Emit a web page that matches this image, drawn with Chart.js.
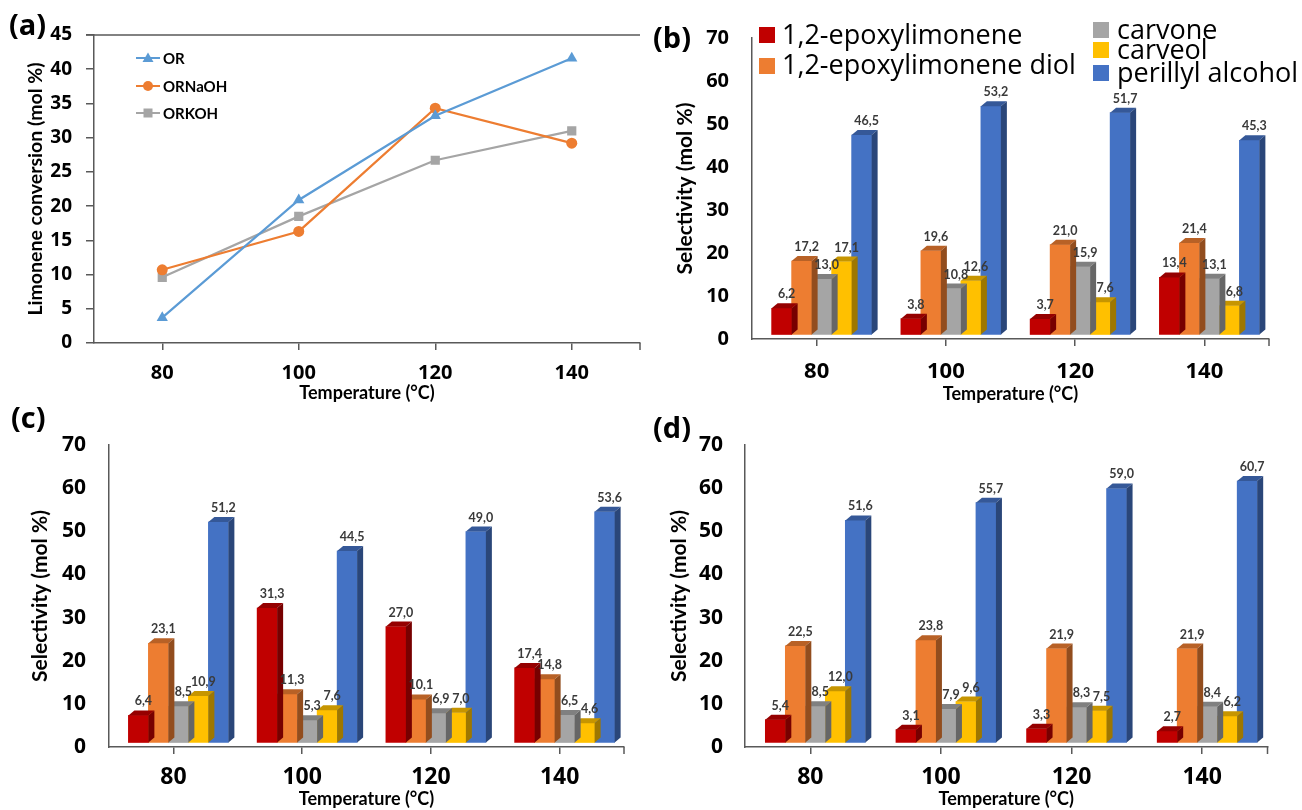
<!DOCTYPE html>
<html>
<head>
<meta charset="utf-8">
<script src="https://cdn.jsdelivr.net/npm/chart.js@4.4.1/dist/chart.umd.min.js"></script>
<style>
  body { margin: 0; background: #fff; width: 1302px; height: 810px; position: relative; overflow: hidden; font-family: Lato, sans-serif; }
  canvas { position: absolute; }
  .tag { position: absolute; font-family: 'Open Sans', sans-serif; font-weight: bold; font-size: 29px; line-height: 30px; color: #000; }
  .la { position: absolute; font-weight: bold; font-size: 15px; line-height: 16px; color: #000; }
  .sq { position: absolute; width: 16px; height: 16px; }
  .lb { position: absolute; font-family: 'Open Sans', sans-serif; font-size: 27px; line-height: 26px; color: #000; white-space: nowrap; }
</style>
</head>
<body>
<canvas id="ca" width="650" height="405" style="left:0;top:0"></canvas>
<canvas id="cb" width="652" height="405" style="left:650px;top:0"></canvas>
<canvas id="cc" width="650" height="405" style="left:0;top:405px"></canvas>
<canvas id="cd" width="652" height="405" style="left:650px;top:405px"></canvas>

<div class="tag" style="left:9px;top:9px">(a)</div>
<div class="tag" style="left:653px;top:22px">(b)</div>
<div class="tag" style="left:11px;top:402px">(c)</div>
<div class="tag" style="left:653px;top:412px">(d)</div>

<!-- legend (a) -->
<svg style="position:absolute;left:0;top:0" width="200" height="130">
  <line x1="136" y1="58" x2="160" y2="58" stroke="#5B9BD5" stroke-width="2"/>
  <polygon points="148,52.5 153.5,62 142.5,62" fill="#5B9BD5"/>
  <line x1="136" y1="86" x2="160" y2="86" stroke="#ED7D31" stroke-width="2"/>
  <circle cx="148" cy="86" r="5" fill="#ED7D31"/>
  <line x1="136" y1="113" x2="160" y2="113" stroke="#A5A5A5" stroke-width="2"/>
  <rect x="143.5" y="108.5" width="9" height="9" fill="#A5A5A5"/>
</svg>
<div class="la" style="left:163px;top:50px">OR</div>
<div class="la" style="left:163px;top:78px">ORNaOH</div>
<div class="la" style="left:163px;top:105px">ORKOH</div>

<!-- legend (b) -->
<div class="sq" style="left:759px;top:27px;background:#C00000"></div>
<div class="lb" style="left:782px;top:21px">1,2-epoxylimonene</div>
<div class="sq" style="left:759px;top:58px;background:#ED7D31"></div>
<div class="lb" style="left:782px;top:51px">1,2-epoxylimonene diol</div>
<div class="sq" style="left:1093px;top:22px;background:#A5A5A5"></div>
<div class="lb" style="left:1117px;top:16px">carvone</div>
<div class="sq" style="left:1093px;top:42px;background:#FFC000"></div>
<div class="lb" style="left:1117px;top:36px">carveol</div>
<div class="sq" style="left:1093px;top:65px;background:#4472C4"></div>
<div class="lb" style="left:1117px;top:59px">perillyl alcohol</div>

<script>
const temps = ['80', '100', '120', '140'];

// (a) limonene conversion, mol %
const convOR = [3.7, 20.9, 33.2, 41.6];
const convNaOH = [10.7, 16.3, 34.3, 29.2];
const convKOH = [9.6, 18.5, 26.7, 31.0];

const products = ['1,2-epoxylimonene', '1,2-epoxylimonene diol', 'carvone', 'carveol', 'perillyl alcohol'];
const productColors = ['#C00000', '#ED7D31', '#A5A5A5', '#FFC000', '#4472C4'];

// (b) selectivity, mol %
const bEpox = [6.2, 3.8, 3.7, 13.4];
const bDiol = [17.2, 19.6, 21.0, 21.4];
const bCarvone = [13.0, 10.8, 15.9, 13.1];
const bCarveol = [17.1, 12.6, 7.6, 6.8];
const bPerillyl = [46.5, 53.2, 51.7, 45.3];

// (c)
const cEpox = [6.4, 31.3, 27.0, 17.4];
const cDiol = [23.1, 11.3, 10.1, 14.8];
const cCarvone = [8.5, 5.3, 6.9, 6.5];
const cCarveol = [10.9, 7.6, 7.0, 4.6];
const cPerillyl = [51.2, 44.5, 49.0, 53.6];

// (d)
const dEpox = [5.4, 3.1, 3.3, 2.7];
const dDiol = [22.5, 23.8, 21.9, 21.9];
const dCarvone = [8.5, 7.9, 8.3, 8.4];
const dCarveol = [12.0, 9.6, 7.5, 6.2];
const dPerillyl = [51.6, 55.7, 59.0, 60.7];

const axisColor = '#595959';
const FONT = 'Lato';
const TICKFONT = 'Open Sans';
const fmt = v => v.toFixed(1).replace('.', ',');

const shade = (hex, k) => {
  const n = parseInt(hex.slice(1), 16);
  return `rgb(${((n >> 16) * k) | 0},${(((n >> 8) & 255) * k) | 0},${((n & 255) * k) | 0})`;
};

// pseudo 3D columns: side + top faces, shifted like the excel floor
const DX = 6, DY = 5, SX = 5, SY = -4;
const bar3d = {
  id: 'bar3d',
  beforeDatasetsDraw(chart) {
    chart.ctx.save();
    chart.ctx.translate(SX, SY);
  },
  afterDatasetDraw(chart, args) {
    const ctx = chart.ctx;
    const col = chart.data.datasets[args.index].backgroundColor;
    args.meta.data.forEach(bar => {
      const { x, y, base, width } = bar.getProps(['x', 'y', 'base', 'width'], true);
      const l = x - width / 2, r = x + width / 2;
      ctx.fillStyle = shade(col, 0.78);
      ctx.beginPath();
      ctx.moveTo(l, y); ctx.lineTo(l + DX, y - DY); ctx.lineTo(r + DX, y - DY); ctx.lineTo(r, y);
      ctx.closePath(); ctx.fill();
      ctx.fillStyle = shade(col, 0.62);
      ctx.beginPath();
      ctx.moveTo(r, y); ctx.lineTo(r + DX, y - DY); ctx.lineTo(r + DX, base - DY); ctx.lineTo(r, base);
      ctx.closePath(); ctx.fill();
    });
  },
  afterDatasetsDraw(chart) {
    const ctx = chart.ctx;
    ctx.font = `bold 12.5px ${FONT}`;
    ctx.fillStyle = '#3a3a3a';
    ctx.textAlign = 'center';
    ctx.textBaseline = 'middle';
    chart.data.datasets.forEach((ds, i) => {
      chart.getDatasetMeta(i).data.forEach((bar, j) => {
        ctx.fillText(fmt(ds.data[j]), bar.x + DX / 2 + 2, bar.y - DY - 9);
      });
    });
    ctx.restore();
  }
};

const endTick = {
  id: 'endTick',
  afterDraw(chart, args, opts) {
    const { ctx, chartArea: a } = chart;
    ctx.save();
    ctx.strokeStyle = axisColor;
    ctx.lineWidth = 1.5;
    ctx.beginPath();
    ctx.moveTo(a.right, a.bottom);
    ctx.lineTo(a.right, a.bottom + 7);
    if (opts.top) {
      ctx.moveTo(a.left - 8, a.top);
      ctx.lineTo(a.right, a.top);
    }
    ctx.stroke();
    ctx.restore();
  }
};

// (a)
new Chart(document.getElementById('ca'), {
  type: 'line',
  data: {
    labels: temps,
    datasets: [
      { label: 'OR', data: convOR, borderColor: '#5B9BD5', backgroundColor: '#5B9BD5', pointStyle: 'triangle', pointRadius: 6.5 },
      { label: 'ORNaOH', data: convNaOH, borderColor: '#ED7D31', backgroundColor: '#ED7D31', pointStyle: 'circle', pointRadius: 5.5 },
      { label: 'ORKOH', data: convKOH, borderColor: '#A5A5A5', backgroundColor: '#A5A5A5', pointStyle: 'rect', pointRadius: 6.5 }
    ].map(d => ({ ...d, borderWidth: 2.2, pointBorderWidth: 0, tension: 0 }))
  },
  options: {
    responsive: false, animation: false, events: [], devicePixelRatio: 1,
    layout: { padding: { top: 35, right: 10, left: 0, bottom: 0 } },
    plugins: { legend: { display: false }, tooltip: { enabled: false }, endTick: { top: true } },
    scales: {
      x: {
        offset: true,
        grid: { drawOnChartArea: false, color: axisColor, tickLength: 7, lineWidth: 1.5, offset: false },
        border: { color: axisColor, width: 1.5 },
        ticks: { color: '#000', font: { family: TICKFONT, size: 20, weight: 'bold' }, padding: 11 },
        title: { display: true, text: 'Temperature (°C)', color: '#000', font: { family: FONT, size: 18, weight: 'bold' }, padding: { top: 0, bottom: 1.2 } },
        afterFit: s => { s.height = 62; }
      },
      y: {
        min: 0, max: 45,
        grid: { drawOnChartArea: false, color: axisColor, tickLength: 8, lineWidth: 1.5 },
        border: { color: axisColor, width: 1.5 },
        ticks: { stepSize: 5, color: '#000', font: { family: TICKFONT, size: 19, weight: 'bold' }, padding: 14 },
        title: { display: true, text: 'Limonene conversion (mol %)', color: '#000', font: { family: FONT, size: 19.5, weight: 'bold' }, padding: { top: 24.3, bottom: 0 } },
        afterFit: s => { s.width = 94; }
      }
    }
  },
  plugins: [endTick]
});

function barPanel(id, series, g) {
  return new Chart(document.getElementById(id), {
    type: 'bar',
    data: {
      labels: temps,
      datasets: series.map((data, i) => ({
        label: products[i], data, backgroundColor: productColors[i], borderWidth: 0, barThickness: 20
      }))
    },
    options: {
      responsive: false, animation: false, events: [], devicePixelRatio: 1,
      layout: { padding: { top: g.top, right: g.right, left: 0, bottom: 0 } },
      plugins: { legend: { display: false }, tooltip: { enabled: false }, endTick: { top: false } },
      scales: {
        x: {
          grid: { drawOnChartArea: false, color: axisColor, tickLength: 7, lineWidth: 1.5, offset: false },
          border: { color: axisColor, width: 1.5 },
          ticks: { color: '#000', font: { family: TICKFONT, size: g.xSize, weight: 'bold' }, padding: g.xPad },
          title: { display: true, text: 'Temperature (°C)', color: '#000', font: { family: FONT, size: 18, weight: 'bold' }, padding: { top: 0, bottom: 0 } },
          afterFit: s => { s.height = g.xh; }
        },
        y: {
          min: 0, max: 70,
          grid: { drawOnChartArea: false, drawTicks: false },
          border: { color: axisColor, width: 1.5 },
          ticks: { stepSize: 10, color: '#000', font: { family: TICKFONT, size: g.ySize, weight: 'bold' }, padding: g.yPad },
          title: { display: true, text: 'Selectivity (mol %)', color: '#000', font: { family: FONT, size: 21, weight: 'bold' }, padding: { top: g.tPad, bottom: 0 } },
          afterFit: s => { s.width = g.yw; }
        }
      }
    },
    plugins: [bar3d, endTick]
  });
}

barPanel('cb', [bEpox, bDiol, bCarvone, bCarveol, bPerillyl],
  { top: 38, right: 33, yw: 102, xh: 66, xSize: 22, xPad: 12.8, ySize: 20, yPad: 23, tPad: 22.4 });
barPanel('cc', [cEpox, cDiol, cCarvone, cCarveol, cPerillyl],
  { top: 40, right: 26, yw: 109, xh: 63, xSize: 23, xPad: 9.2, ySize: 21, yPad: 23, tPad: 27.4 });
barPanel('cd', [dEpox, dDiol, dCarvone, dCarveol, dPerillyl],
  { top: 40, right: 34.5, yw: 95, xh: 63, xSize: 23, xPad: 9.2, ySize: 21, yPad: 22, tPad: 16.4 });
</script>
</body>
</html>
